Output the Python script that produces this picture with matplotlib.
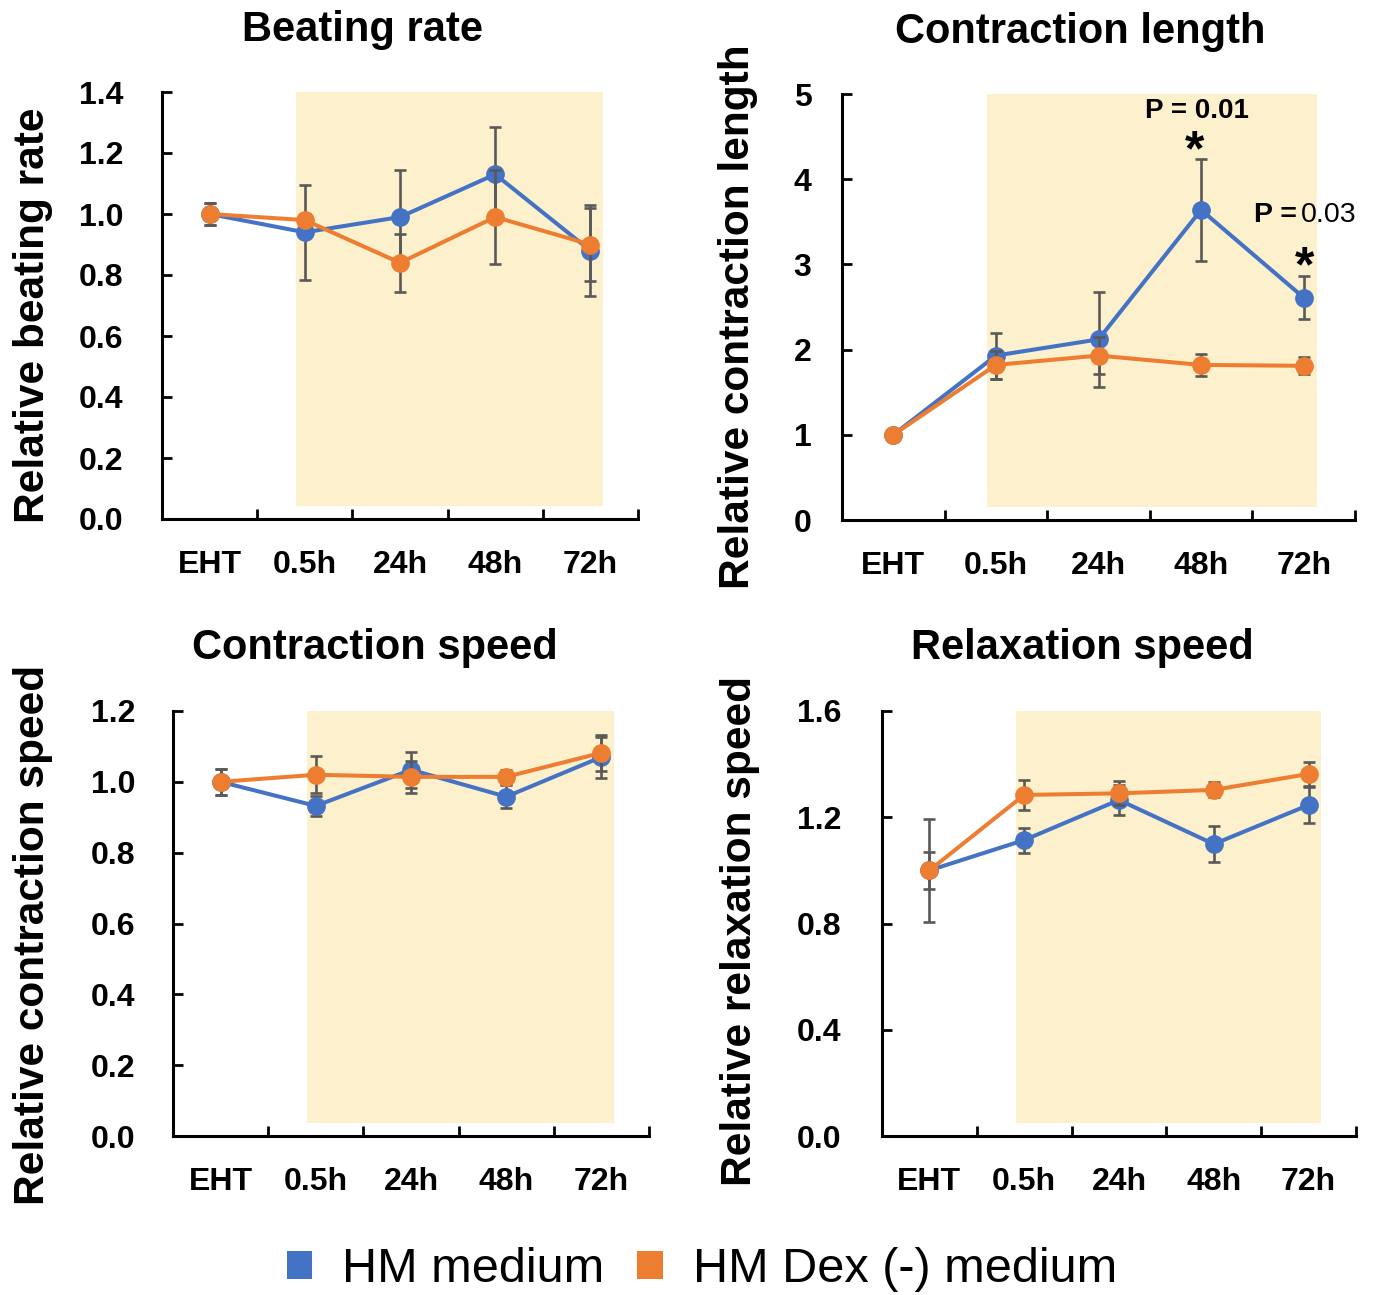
import matplotlib
matplotlib.use("Agg")
import matplotlib.pyplot as plt
from matplotlib.patches import Patch
import numpy as np

plt.rcParams['font.family'] = ['Liberation Sans', 'DejaVu Sans']

# ---------------- data ----------------
timepoints = ["EHT", "0.5h", "24h", "48h", "72h"]
series_names = ["HM medium", "HM Dex (-) medium"]

beat_hm = [1.00, 0.94, 0.99, 1.13, 0.88]
beat_hm_err = [0.035, 0.155, 0.155, 0.155, 0.15]
beat_dex = [1.00, 0.98, 0.84, 0.99, 0.90]
beat_dex_err = [0.035, 0.02, 0.095, 0.155, 0.12]

clen_hm = [1.00, 1.93, 2.12, 3.64, 2.61]
clen_hm_err = [0.02, 0.27, 0.56, 0.60, 0.25]
clen_dex = [1.00, 1.82, 1.93, 1.82, 1.81]
clen_dex_err = [0.02, 0.16, 0.22, 0.13, 0.10]

cspd_hm = [1.00, 0.932, 1.034, 0.958, 1.07]
cspd_hm_err = [0.037, 0.028, 0.05, 0.033, 0.058]
cspd_dex = [1.00, 1.02, 1.014, 1.014, 1.082]
cspd_dex_err = [0.037, 0.052, 0.045, 0.02, 0.05]

rspd_hm = [1.00, 1.114, 1.265, 1.099, 1.246]
rspd_hm_err = [0.195, 0.047, 0.055, 0.067, 0.068]
rspd_dex = [1.00, 1.284, 1.29, 1.303, 1.363]
rspd_dex_err = [0.07, 0.057, 0.045, 0.028, 0.045]

titles = ["Beating rate", "Contraction length", "Contraction speed", "Relaxation speed"]
ylabels = ["Relative beating rate", "Relative contraction length",
           "Relative contraction speed", "Relative relaxation speed"]

BLUE = "#4472C4"
ORANGE = "#ED7D31"
SHADE = "#FDF0CD"
ERRC = "#595959"

W, H = 1374, 1295
fig = plt.figure(figsize=(W / 100, H / 100), dpi=100)

def fx(px):
    return px / W

def fy(py):
    return 1 - py / H

# axes rectangles in pixels: left, right, top, bottom
rects = [
    (162, 638, 92, 519),
    (842, 1355, 94, 520),
    (173, 649, 711, 1136),
    (882, 1356, 711, 1136),
]
ylims = [(0, 1.4), (0, 5), (0, 1.2), (0, 1.6)]
yticks = [np.arange(0, 1.41, 0.2), np.arange(0, 5.1, 1), np.arange(0, 1.21, 0.2), np.arange(0, 1.61, 0.4)]
yfmt = ["{:.1f}", "{:.0f}", "{:.1f}", "{:.1f}"]
ypads = [28, 22, 27, 29]

data = [
    (beat_hm, beat_hm_err, beat_dex, beat_dex_err),
    (clen_hm, clen_hm_err, clen_dex, clen_dex_err),
    (cspd_hm, cspd_hm_err, cspd_dex, cspd_dex_err),
    (rspd_hm, rspd_hm_err, rspd_dex, rspd_dex_err),
]

x = np.arange(len(timepoints))
axes = []
for i, (l, r, t, b) in enumerate(rects):
    ax = fig.add_axes([fx(l), fy(b), fx(r) - fx(l), fy(t) - fy(b)])
    axes.append(ax)
    hm, hm_e, dx, dx_e = data[i]
    ax.axvspan(0.91, 4.13, ymin=0.03, ymax=1.0, color=SHADE, lw=0, zorder=0)
    for vals, errs, col, z in [(hm, hm_e, BLUE, 3), (dx, dx_e, ORANGE, 5)]:
        ax.errorbar(x, vals, yerr=errs, fmt='none', ecolor=ERRC, elinewidth=1.9,
                    capsize=4.5, capthick=1.9, zorder=z - 1)
        ax.plot(x, vals, color=col, lw=2.9, marker='o', markersize=13.5,
                markeredgewidth=0, zorder=z)
    ax.set_xlim(-0.5, 4.5)
    ax.set_ylim(*ylims[i])
    ax.set_yticks(yticks[i])
    ax.set_yticklabels([yfmt[i].format(v) for v in yticks[i]])
    ax.set_xticks(x)
    ax.set_xticklabels(timepoints)
    ax.set_xticks(np.arange(-0.5, 4.6, 1.0), minor=True)
    ax.tick_params(axis='x', which='major', length=0, pad=22, labelsize=23)
    ax.tick_params(axis='x', which='minor', direction='in', length=7, width=2, color='black')
    ax.tick_params(axis='y', which='major', direction='in', length=7, width=2,
                   pad=ypads[i], labelsize=23)
    for lab in ax.get_xticklabels() + ax.get_yticklabels():
        lab.set_fontweight('bold')
    for s in ['top', 'right']:
        ax.spines[s].set_visible(False)
    for s in ['left', 'bottom']:
        ax.spines[s].set_linewidth(2.2)
        ax.spines[s].set_color('black')
    ax.set_facecolor('none')

# annotations on contraction length
ax = axes[1]
ax.text(2.96, 4.8, "P = 0.01", ha='center', va='center', fontsize=20, fontweight='bold')
ax.text(2.94, 4.31, "*", ha='center', va='center', fontsize=36, fontweight='bold')
ax.text(3.93, 3.58, "P =", ha='right', va='center', fontsize=20.5, fontweight='bold')
ax.text(3.97, 3.58, "0.03", ha='left', va='center', fontsize=20.5, fontweight='normal')
ax.text(4.01, 2.95, "*", ha='center', va='center', fontsize=36, fontweight='bold')

# titles
title_pos = [(362, 30), (1080, 32), (375, 648), (1082, 648)]
for t, (px, py) in zip(titles, title_pos):
    fig.text(fx(px), fy(py), t, ha='center', va='center', fontsize=30, fontweight='bold')

# y labels
ylab_pos = [(33, 315), (738, 317), (33, 935), (740, 931)]
for t, (px, py) in zip(ylabels, ylab_pos):
    fig.text(fx(px), fy(py), t, ha='center', va='center', rotation=90,
             fontsize=30.5, fontweight='bold')

# legend
handles = [Patch(facecolor=BLUE, edgecolor='none'), Patch(facecolor=ORANGE, edgecolor='none')]
fig.legend(handles, series_names, loc='center', bbox_to_anchor=(fx(702), fy(1270)),
           ncol=2, frameon=False, fontsize=35, handlelength=0.52, handleheight=0.52,
           handletextpad=0.62, columnspacing=0.67, borderaxespad=0, borderpad=0)

fig.savefig("out.png", dpi=100)
